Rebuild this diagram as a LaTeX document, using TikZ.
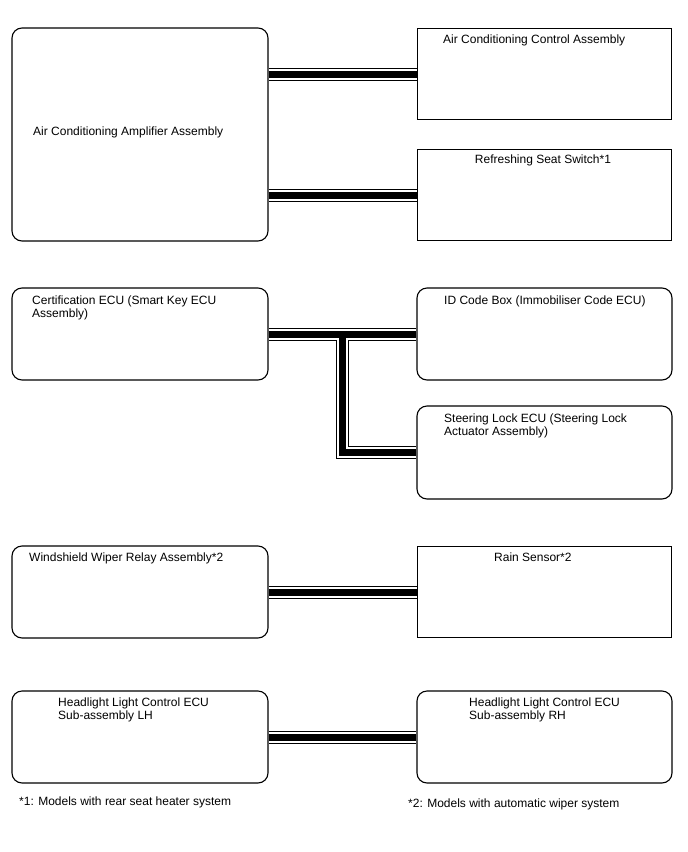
\documentclass[tikz,border=0pt]{standalone}
\usepackage{fontspec}
\setmainfont{Liberation Sans}
\begin{document}
\begin{tikzpicture}[x=1pt,y=-1pt,
  box/.style={draw,line width=1.1pt,inner sep=0pt,minimum width=#1},
  rbox/.style={box=#1,rounded corners=10pt},
  txt/.style={anchor=base west,inner sep=0pt,font=\fontsize{12}{13.5}\selectfont,align=left},
  foot/.style={anchor=base west,inner sep=0pt,font=\fontsize{12}{14}\selectfont}]
\useasboundingbox (0,0) rectangle (688,852);
% boxes
\node[rbox=256pt,minimum height=213pt] (amp) at (140,134.5) {};
\node[box=254pt,minimum height=91pt] (acc) at (544.5,74) {};
\node[box=254pt,minimum height=91pt] (rss) at (544.5,195) {};
\node[rbox=256pt,minimum height=92pt] (cert) at (140,334) {};
\node[rbox=255pt,minimum height=92pt] (idc) at (544.5,334) {};
\node[rbox=255pt,minimum height=93pt] (slk) at (544.5,452.5) {};
\node[rbox=256pt,minimum height=92pt] (wip) at (140,592) {};
\node[box=254pt,minimum height=91pt] (rain) at (544.5,592) {};
\node[rbox=256pt,minimum height=92pt] (hlh) at (140,737) {};
\node[rbox=255pt,minimum height=92pt] (hrh) at (544.5,737) {};
% texts (multi-line nodes anchored at the last baseline)
\node[txt] (t1) at (33,135) {Air Conditioning Amplifier Assembly};
\node[txt] (t2) at (443,43) {Air Conditioning Control Assembly};
\node[txt,anchor=base] (t3) at (543,163) {Refreshing Seat Switch*1};
\node[txt] (t4) at (32,317.5) {Certification ECU (Smart Key ECU\\Assembly)};
\node[txt] (t5) at (444,304) {ID Code Box (Immobiliser Code ECU)};
\node[txt] (t6) at (444,435.5) {Steering Lock ECU (Steering Lock\\Actuator Assembly)};
\node[txt] (t7) at (29,561) {Windshield Wiper Relay Assembly*2};
\node[txt] (t8) at (494,561) {Rain Sensor*2};
\node[txt] (t9) at (58,719.5) {Headlight Light Control ECU\\Sub-assembly LH};
\node[txt] (t10) at (469,719.5) {Headlight Light Control ECU\\Sub-assembly RH};
\node[foot] (f1) at (19,805) {*1: Models with rear seat heater system};
\node[foot] (f2) at (408,807) {*2: Models with automatic wiper system};
% bus connectors
\coordinate (jn) at (342,334);
\foreach \w/\c in {13/black,11/white,7/black}{
  \draw[line width=\w pt,\c] (acc.west -| amp.east) -- (acc.west);
  \draw[line width=\w pt,\c] (rss.west -| amp.east) -- (rss.west);
  \draw[line width=\w pt,\c] (cert.east) -- (idc.west);
  \draw[line width=\w pt,\c] (jn) |- (slk.west);
  \draw[line width=\w pt,\c] (wip.east) -- (rain.west);
  \draw[line width=\w pt,\c] (hlh.east) -- (hrh.west);
}
\end{tikzpicture}
\end{document}
